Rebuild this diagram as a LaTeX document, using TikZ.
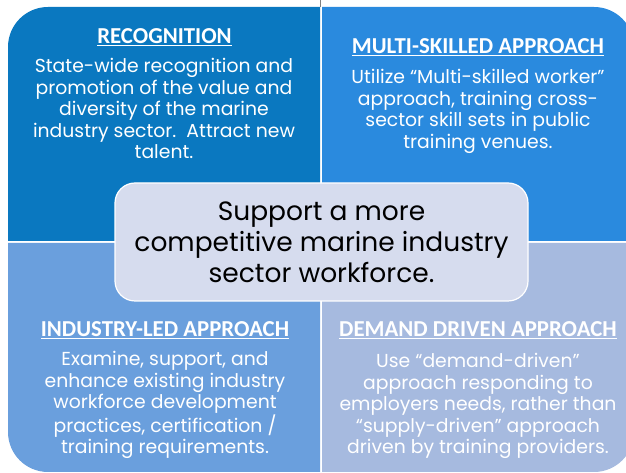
\documentclass[tikz,border=0pt]{standalone}
\usepackage{fontspec}
\setmainfont{Poppins}
\newfontfamily\headfont{Carlito}
\definecolor{recblue}{HTML}{0A78C0}
\definecolor{skillblue}{HTML}{2A8ADE}
\definecolor{industryblue}{HTML}{6A9FDD}
\definecolor{demandblue}{HTML}{A6BADF}
\definecolor{hubfill}{HTML}{D6DCEE}
\tikzset{
  x=1pt, y=1pt,
  heading/.style={anchor=base, text=white, font=\headfont\bfseries\fontsize{22.8}{26}\selectfont},
  body/.style={anchor=base, align=center, text=white, inner sep=0pt, font=\fontsize{18.8}{21.5}\selectfont},
  hub/.style={draw=white, line width=1.2pt, fill=hubfill, rounded corners=20pt,
    minimum width=413pt, minimum height=118pt, align=center, text=black,
    font=\fontsize{26.5}{31}\selectfont}
}
\begin{document}
\begin{tikzpicture}
  \useasboundingbox (0,0) rectangle (626,473);
  % quadrants
  \fill[recblue] (320,232) -- (8,232) -- (8,426) arc[start angle=180, end angle=90, radius=40] -- (320,466) -- cycle;
  \fill[skillblue] (322,232) -- (322,466) -- (594,466) arc[start angle=90, end angle=0, radius=40] -- (634,232) -- cycle;
  \fill[industryblue] (320,230) -- (320,1) -- (48,1) arc[start angle=270, end angle=180, radius=40] -- (8,230) -- cycle;
  \fill[demandblue] (322,230) -- (322,1) -- (594,1) arc[start angle=-90, end angle=0, radius=40] -- (634,230) -- cycle;
  \draw[gray, line width=1pt] (320.5,466) -- (320.5,473);

  % base of a text block = baseline of its last line
  \node[heading] (rechead) at (164.5,429) {\underline{RECOGNITION}};
  \node[body] (rectext) at (164,314) {State-wide recognition and\\promotion of the value and\\diversity of the marine\\industry sector.\ \ Attract new\\talent.};

  \node[heading] (skillhead) at (478,419) {\underline{MULTI-SKILLED APPROACH}};
  \node[body] (skilltext) at (478,324.5) {Utilize “Multi-skilled worker”\\approach, training cross-\\sector skill sets in public\\training venues.};

  \node[heading] (indhead) at (165,136) {\underline{INDUSTRY-LED APPROACH}};
  \node[body] (indtext) at (165,19) {Examine, support, and\\enhance existing industry\\workforce development\\practices, certification /\\training requirements.};

  \node[heading] (demhead) at (478,136) {\underline{DEMAND DRIVEN APPROACH}};
  \node[body] (demtext) at (478,19) {Use “demand-driven”\\approach responding to\\employers needs, rather than\\“supply-driven” approach\\driven by training providers.};

  \node[hub] (goal) at (321.5,231) {Support a more\\competitive marine industry\\sector workforce.};
\end{tikzpicture}
\end{document}
